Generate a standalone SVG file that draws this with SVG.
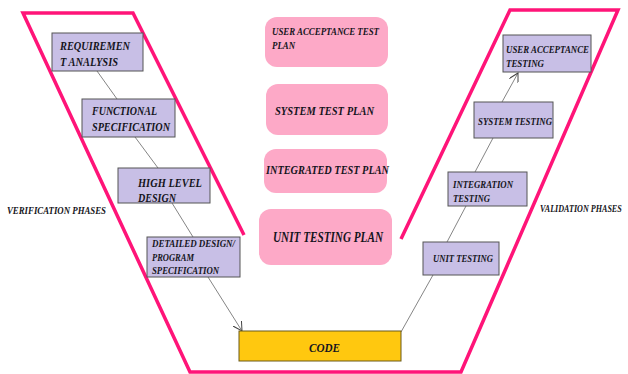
<svg xmlns="http://www.w3.org/2000/svg" width="628" height="374" viewBox="0 0 628 374">
  <style>
    .phase { fill: #c8bfe6; stroke: #555; stroke-width: 1; }
    .plan { fill: #fda9c7; stroke: none; }
    .code { fill: #ffc80f; stroke: #6b5a1a; stroke-width: 1; }
    .t { font-family: "Liberation Serif", "Times New Roman", serif; font-weight: bold; font-style: italic; fill: #141420; }
    .vee { fill: none; stroke: #ff1478; stroke-width: 3.5; stroke-linejoin: miter; }
    .link { fill: none; stroke: #666; stroke-width: 0.8; }
  </style>
  <defs>
    <marker id="open" viewBox="0 0 10 10" refX="9" refY="5" markerWidth="10" markerHeight="10" markerUnits="userSpaceOnUse" orient="auto">
      <path d="M0,0 L9,5 L0,10" fill="none" stroke="#444" stroke-width="1"/>
    </marker>
  </defs>
  <rect width="628" height="374" fill="#fff"/>

  <!-- V outline -->
  <path class="vee" d="M244,235 L133,13 L23,13 L190,372 L461,372 L618,10 L510,10 L401,239"/>

  <!-- side labels -->
  <text class="t" x="7" y="214" font-size="10.5" textLength="99" lengthAdjust="spacingAndGlyphs">VERIFICATION PHASES</text>
  <text class="t" transform="translate(540,212) scale(0.77,1)" x="0" y="0" font-size="10.5">VALIDATION PHASES</text>

  <!-- connectors -->
  <g id="connectors">
    <line class="link" x1="97" y1="71" x2="117" y2="99"/>
    <line class="link" x1="135" y1="137" x2="158" y2="168"/>
    <line class="link" x1="172" y1="203" x2="193" y2="237"/>
    <line class="link" x1="208" y1="277" x2="242" y2="331" marker-end="url(#open)"/>
    <line class="link" x1="401" y1="332" x2="433" y2="275"/>
    <line class="link" x1="447" y1="242" x2="466" y2="206"/>
    <line class="link" x1="475" y1="172" x2="493" y2="138"/>
    <line class="link" x1="502" y1="102" x2="518" y2="73" marker-end="url(#open)"/>
  </g>

  <!-- verification side -->
  <g id="requirement-analysis">
    <rect class="phase" x="52" y="33" width="91" height="38"/>
    <text class="t" x="60" y="50" font-size="12" textLength="70" lengthAdjust="spacingAndGlyphs">REQUIREMEN</text>
    <text class="t" x="60" y="66" font-size="12" textLength="58" lengthAdjust="spacingAndGlyphs">T ANALYSIS</text>
  </g>
  <g id="functional-specification">
    <rect class="phase" x="82" y="99" width="93" height="38"/>
    <text class="t" x="92" y="115" font-size="12" textLength="65" lengthAdjust="spacingAndGlyphs">FUNCTIONAL</text>
    <text class="t" x="92" y="131" font-size="12" textLength="78" lengthAdjust="spacingAndGlyphs">SPECIFICATION</text>
  </g>
  <g id="high-level-design">
    <rect class="phase" x="118" y="168" width="92" height="35"/>
    <text class="t" x="138" y="187" font-size="12" textLength="64" lengthAdjust="spacingAndGlyphs">HIGH LEVEL</text>
    <text class="t" x="138" y="202" font-size="12" textLength="38" lengthAdjust="spacingAndGlyphs">DESIGN</text>
  </g>
  <g id="detailed-design">
    <rect class="phase" x="147" y="237" width="93" height="40"/>
    <text class="t" x="152" y="247" font-size="11" textLength="83" lengthAdjust="spacingAndGlyphs">DETAILED DESIGN/</text>
    <text class="t" x="152" y="261" font-size="11" textLength="42" lengthAdjust="spacingAndGlyphs">PROGRAM</text>
    <text class="t" x="152" y="274" font-size="11" textLength="67" lengthAdjust="spacingAndGlyphs">SPECIFICATION</text>
  </g>

  <!-- test plans -->
  <g id="uat-plan">
    <rect class="plan" x="265" y="17" width="123" height="50" rx="12"/>
    <text class="t" x="272" y="35" font-size="10.5" textLength="107" lengthAdjust="spacingAndGlyphs">USER ACCEPTANCE TEST</text>
    <text class="t" x="272" y="49" font-size="10.5" textLength="23" lengthAdjust="spacingAndGlyphs">PLAN</text>
  </g>
  <g id="system-test-plan">
    <rect class="plan" x="266" y="84" width="122" height="51" rx="12"/>
    <text class="t" x="275" y="115" font-size="13" textLength="99" lengthAdjust="spacingAndGlyphs">SYSTEM TEST PLAN</text>
  </g>
  <g id="integrated-test-plan">
    <rect class="plan" x="264" y="149" width="123" height="44" rx="12"/>
    <text class="t" x="266" y="174" font-size="13" textLength="123" lengthAdjust="spacingAndGlyphs">INTEGRATED TEST PLAN</text>
  </g>
  <g id="unit-testing-plan">
    <rect class="plan" x="259" y="209" width="133" height="56" rx="12"/>
    <text class="t" x="273" y="242" font-size="15" textLength="110" lengthAdjust="spacingAndGlyphs">UNIT TESTING PLAN</text>
  </g>

  <!-- code -->
  <g id="code">
    <rect class="code" x="239" y="331" width="162" height="30"/>
    <text class="t" x="309" y="352" font-size="13.5" textLength="31" lengthAdjust="spacingAndGlyphs">CODE</text>
  </g>

  <!-- validation side -->
  <g id="unit-testing">
    <rect class="phase" x="423" y="242" width="76" height="33"/>
    <text class="t" x="433" y="262" font-size="11" textLength="60" lengthAdjust="spacingAndGlyphs">UNIT TESTING</text>
  </g>
  <g id="integration-testing">
    <rect class="phase" x="448" y="172" width="79" height="34"/>
    <text class="t" x="453" y="188" font-size="11" textLength="60" lengthAdjust="spacingAndGlyphs">INTEGRATION</text>
    <text class="t" x="453" y="202" font-size="11" textLength="37" lengthAdjust="spacingAndGlyphs">TESTING</text>
  </g>
  <g id="system-testing">
    <rect class="phase" x="474" y="102" width="79" height="36"/>
    <text class="t" x="478" y="125" font-size="11" textLength="74" lengthAdjust="spacingAndGlyphs">SYSTEM TESTING</text>
  </g>
  <g id="user-acceptance-testing">
    <rect class="phase" x="503" y="35" width="88" height="37"/>
    <text class="t" x="506" y="53" font-size="11" textLength="83" lengthAdjust="spacingAndGlyphs">USER ACCEPTANCE</text>
    <text class="t" x="506" y="67" font-size="11" textLength="38" lengthAdjust="spacingAndGlyphs">TESTING</text>
  </g>
</svg>
